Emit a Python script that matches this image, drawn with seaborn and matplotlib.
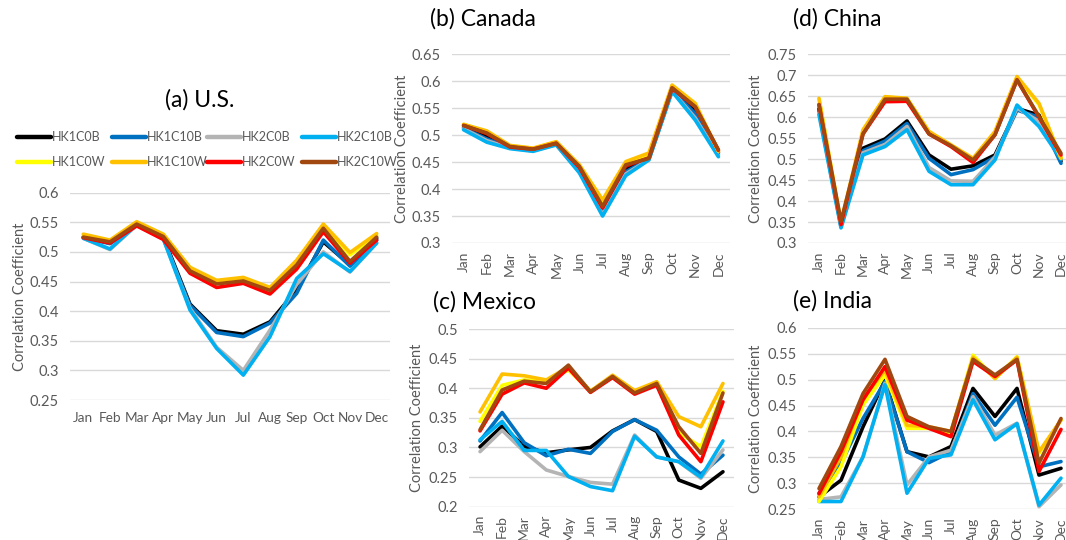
import numpy as np
import pandas as pd
import matplotlib
matplotlib.use("Agg")
import matplotlib.pyplot as plt
import seaborn as sns

months = ['Jan', 'Feb', 'Mar', 'Apr', 'May', 'Jun', 'Jul', 'Aug', 'Sep', 'Oct', 'Nov', 'Dec']
series_names = ['HK1C0B', 'HK1C10B', 'HK2C0B', 'HK2C10B', 'HK1C0W', 'HK1C10W', 'HK2C0W', 'HK2C10W']
series_colors = ['#000000', '#0070C0', '#B4B4B4', '#00B0F0', '#FFFF00', '#FFC000', '#FF0000', '#A0480F']

us = {
    'HK1C0B':  [0.525, 0.515, 0.547, 0.525, 0.412, 0.367, 0.361, 0.382, 0.436, 0.517, 0.478, 0.523],
    'HK1C10B': [0.524, 0.514, 0.546, 0.523, 0.410, 0.364, 0.357, 0.380, 0.430, 0.520, 0.476, 0.520],
    'HK2C0B':  [0.523, 0.504, 0.545, 0.522, 0.405, 0.339, 0.300, 0.368, 0.445, 0.500, 0.466, 0.515],
    'HK2C10B': [0.523, 0.505, 0.546, 0.522, 0.402, 0.337, 0.292, 0.357, 0.455, 0.497, 0.467, 0.515],
    'HK1C0W':  [0.528, 0.518, 0.550, 0.528, 0.472, 0.450, 0.455, 0.438, 0.482, 0.544, 0.495, 0.528],
    'HK1C10W': [0.530, 0.520, 0.551, 0.530, 0.474, 0.452, 0.457, 0.440, 0.486, 0.547, 0.499, 0.531],
    'HK2C0W':  [0.524, 0.515, 0.544, 0.521, 0.464, 0.440, 0.447, 0.429, 0.471, 0.534, 0.481, 0.520],
    'HK2C10W': [0.525, 0.517, 0.547, 0.526, 0.468, 0.446, 0.451, 0.435, 0.478, 0.540, 0.484, 0.525],
}

canada = {
    'HK1C0B':  [0.515, 0.497, 0.478, 0.473, 0.484, 0.438, 0.360, 0.437, 0.457, 0.585, 0.545, 0.468],
    'HK1C10B': [0.513, 0.493, 0.477, 0.472, 0.483, 0.435, 0.357, 0.432, 0.456, 0.583, 0.540, 0.465],
    'HK2C0B':  [0.512, 0.490, 0.476, 0.471, 0.482, 0.432, 0.353, 0.428, 0.455, 0.582, 0.532, 0.462],
    'HK2C10B': [0.510, 0.487, 0.475, 0.470, 0.482, 0.430, 0.350, 0.425, 0.454, 0.581, 0.528, 0.460],
    'HK1C0W':  [0.520, 0.506, 0.480, 0.475, 0.487, 0.443, 0.375, 0.448, 0.463, 0.590, 0.555, 0.471],
    'HK1C10W': [0.520, 0.508, 0.481, 0.476, 0.488, 0.445, 0.380, 0.451, 0.467, 0.593, 0.559, 0.470],
    'HK2C0W':  [0.518, 0.503, 0.478, 0.474, 0.485, 0.440, 0.365, 0.443, 0.458, 0.587, 0.552, 0.472],
    'HK2C10W': [0.518, 0.504, 0.479, 0.474, 0.485, 0.442, 0.368, 0.445, 0.457, 0.588, 0.553, 0.473],
}

china = {
    'HK1C0B':  [0.620, 0.342, 0.526, 0.548, 0.591, 0.510, 0.476, 0.484, 0.510, 0.621, 0.605, 0.495],
    'HK1C10B': [0.615, 0.340, 0.520, 0.543, 0.585, 0.502, 0.463, 0.475, 0.505, 0.617, 0.600, 0.490],
    'HK2C0B':  [0.610, 0.338, 0.515, 0.535, 0.578, 0.480, 0.448, 0.447, 0.505, 0.622, 0.590, 0.505],
    'HK2C10B': [0.606, 0.336, 0.510, 0.530, 0.570, 0.471, 0.439, 0.439, 0.498, 0.629, 0.578, 0.500],
    'HK1C0W':  [0.643, 0.346, 0.567, 0.648, 0.644, 0.565, 0.533, 0.500, 0.564, 0.695, 0.630, 0.503],
    'HK1C10W': [0.645, 0.348, 0.570, 0.649, 0.645, 0.566, 0.534, 0.502, 0.566, 0.697, 0.633, 0.502],
    'HK2C0W':  [0.630, 0.344, 0.560, 0.637, 0.638, 0.560, 0.530, 0.492, 0.558, 0.689, 0.600, 0.510],
    'HK2C10W': [0.630, 0.352, 0.560, 0.643, 0.643, 0.560, 0.532, 0.498, 0.558, 0.689, 0.602, 0.514],
}

mexico = {
    'HK1C0B':  [0.301, 0.336, 0.302, 0.291, 0.296, 0.300, 0.328, 0.347, 0.327, 0.245, 0.231, 0.259],
    'HK1C10B': [0.311, 0.359, 0.308, 0.286, 0.297, 0.290, 0.327, 0.347, 0.329, 0.284, 0.255, 0.287],
    'HK2C0B':  [0.293, 0.329, 0.293, 0.262, 0.251, 0.241, 0.238, 0.321, 0.284, 0.276, 0.248, 0.296],
    'HK2C10B': [0.313, 0.344, 0.295, 0.295, 0.251, 0.234, 0.227, 0.319, 0.284, 0.276, 0.250, 0.311],
    'HK1C0W':  [0.344, 0.405, 0.414, 0.411, 0.431, 0.395, 0.420, 0.393, 0.410, 0.325, 0.301, 0.395],
    'HK1C10W': [0.360, 0.424, 0.421, 0.414, 0.436, 0.395, 0.422, 0.396, 0.411, 0.352, 0.335, 0.408],
    'HK2C0W':  [0.328, 0.390, 0.409, 0.400, 0.434, 0.393, 0.418, 0.390, 0.405, 0.321, 0.276, 0.377],
    'HK2C10W': [0.330, 0.397, 0.412, 0.408, 0.439, 0.394, 0.420, 0.392, 0.408, 0.335, 0.290, 0.392],
}

india = {
    'HK1C0B':  [0.274, 0.306, 0.409, 0.499, 0.361, 0.351, 0.371, 0.483, 0.429, 0.483, 0.316, 0.329],
    'HK1C10B': [0.281, 0.339, 0.425, 0.496, 0.361, 0.340, 0.361, 0.473, 0.412, 0.466, 0.332, 0.342],
    'HK2C0B':  [0.269, 0.274, 0.351, 0.493, 0.297, 0.351, 0.364, 0.467, 0.393, 0.416, 0.255, 0.297],
    'HK2C10B': [0.265, 0.265, 0.351, 0.490, 0.281, 0.348, 0.355, 0.461, 0.384, 0.415, 0.258, 0.310],
    'HK1C0W':  [0.265, 0.332, 0.451, 0.509, 0.406, 0.406, 0.396, 0.547, 0.502, 0.544, 0.358, 0.422],
    'HK1C10W': [0.274, 0.351, 0.464, 0.518, 0.412, 0.409, 0.400, 0.543, 0.502, 0.543, 0.361, 0.422],
    'HK2C0W':  [0.280, 0.361, 0.461, 0.525, 0.422, 0.406, 0.390, 0.535, 0.506, 0.538, 0.323, 0.404],
    'HK2C10W': [0.290, 0.371, 0.473, 0.539, 0.429, 0.409, 0.400, 0.539, 0.509, 0.539, 0.339, 0.425],
}

titles = ['(a) U.S.', '(b) Canada', '(c) Mexico', '(d) China', '(e) India']
ylims = [(0.25, 0.6), (0.3, 0.65), (0.2, 0.5), (0.3, 0.75), (0.25, 0.6)]
yticks = [np.arange(0.25, 0.6001, 0.05), np.arange(0.3, 0.6501, 0.05), np.arange(0.2, 0.5001, 0.05),
          np.arange(0.3, 0.7501, 0.05), np.arange(0.25, 0.6001, 0.05)]

sns.set_theme(style="white")
plt.rcParams['font.family'] = ['Lato', 'DejaVu Sans']

W, H = 1066, 540
fig = plt.figure(figsize=(W / 100, H / 100), dpi=100)

def px_axes(left, right, top, bottom):
    return fig.add_axes([left / W, 1 - bottom / H, (right - left) / W, (bottom - top) / H])

def fmt(t):
    s = f"{t:.2f}"
    if s.endswith('0'):
        s = s[:-1]
    return s

# pixel boxes: left, right, top(ymax), bottom(ymin)
boxes = [(70, 390, 192.7, 400), (452, 730, 54.3, 243), (469, 734, 329, 506.7),
         (808, 1072, 54.3, 243), (808, 1072, 327.7, 509.3)]
datasets = [us, canada, mexico, china, india]
title_pos = [(165, 100), (430, 19), (433, 302), (793, 19), (793, 301)]
ylabel_x = [20, 402, 417, 756, 756]

tick_color = '#595959'
handles_store = None
for i, (box, data) in enumerate(zip(boxes, datasets)):
    ax = px_axes(*box)
    rows = []
    for s in series_names:
        for m_i, v in enumerate(data[s]):
            rows.append({'month': m_i, 'value': v, 'series': s})
    df = pd.DataFrame(rows)
    sns.lineplot(data=df, x='month', y='value', hue='series', hue_order=series_names,
                 palette=dict(zip(series_names, series_colors)), linewidth=2.6,
                 ax=ax, legend=(i == 0), zorder=3)
    ax.set_xlim(-0.5, len(months) - 0.5)
    ax.set_ylim(*ylims[i])
    ax.set_yticks(yticks[i])
    ax.set_yticklabels([fmt(t) for t in yticks[i]])
    ax.set_xticks(range(len(months)))
    ax.set_xticklabels(months, rotation=0 if i == 0 else 90)
    ax.grid(axis='y', color='#D9D9D9', linewidth=1.0, zorder=0)
    ax.grid(axis='x', visible=False)
    for sp in ax.spines.values():
        sp.set_visible(False)
    ax.tick_params(axis='y', length=0, labelsize=10.5, colors=tick_color, pad=8)
    ax.tick_params(axis='x', length=0, labelsize=(9.8 if i == 0 else 10), colors=tick_color,
                   pad=(9 if i == 0 else 6))
    ax.set_xlabel('')
    ax.set_ylabel('')
    cy = (box[2] + box[3]) / 2
    fig.text(ylabel_x[i] / W, 1 - cy / H, 'Correlation Coefficient', rotation=90,
             ha='center', va='center', fontsize=10.5, color=tick_color)
    fig.text(title_pos[i][0] / W, 1 - title_pos[i][1] / H, titles[i], ha='left', va='center',
             fontsize=16.5, color='black')
    if i == 0:
        h, l = ax.get_legend_handles_labels()
        ax.get_legend().remove()
        handles_store = (h, l)

h, l = handles_store
col_x = [17, 112, 207, 302]
for c in range(4):
    idx = [c, c + 4]
    leg = fig.legend([h[k] for k in idx], [l[k] for k in idx], ncol=1,
                     loc='upper left', bbox_to_anchor=(col_x[c] / W, 1 - 131 / H),
                     frameon=False, fontsize=9, handlelength=2.7, handletextpad=0.1,
                     labelspacing=1.05, borderaxespad=0, borderpad=0)
    for t in leg.get_texts():
        t.set_color(tick_color)
    for ln in leg.get_lines():
        ln.set_linewidth(3.2)

fig.savefig('out.png', dpi=100)
